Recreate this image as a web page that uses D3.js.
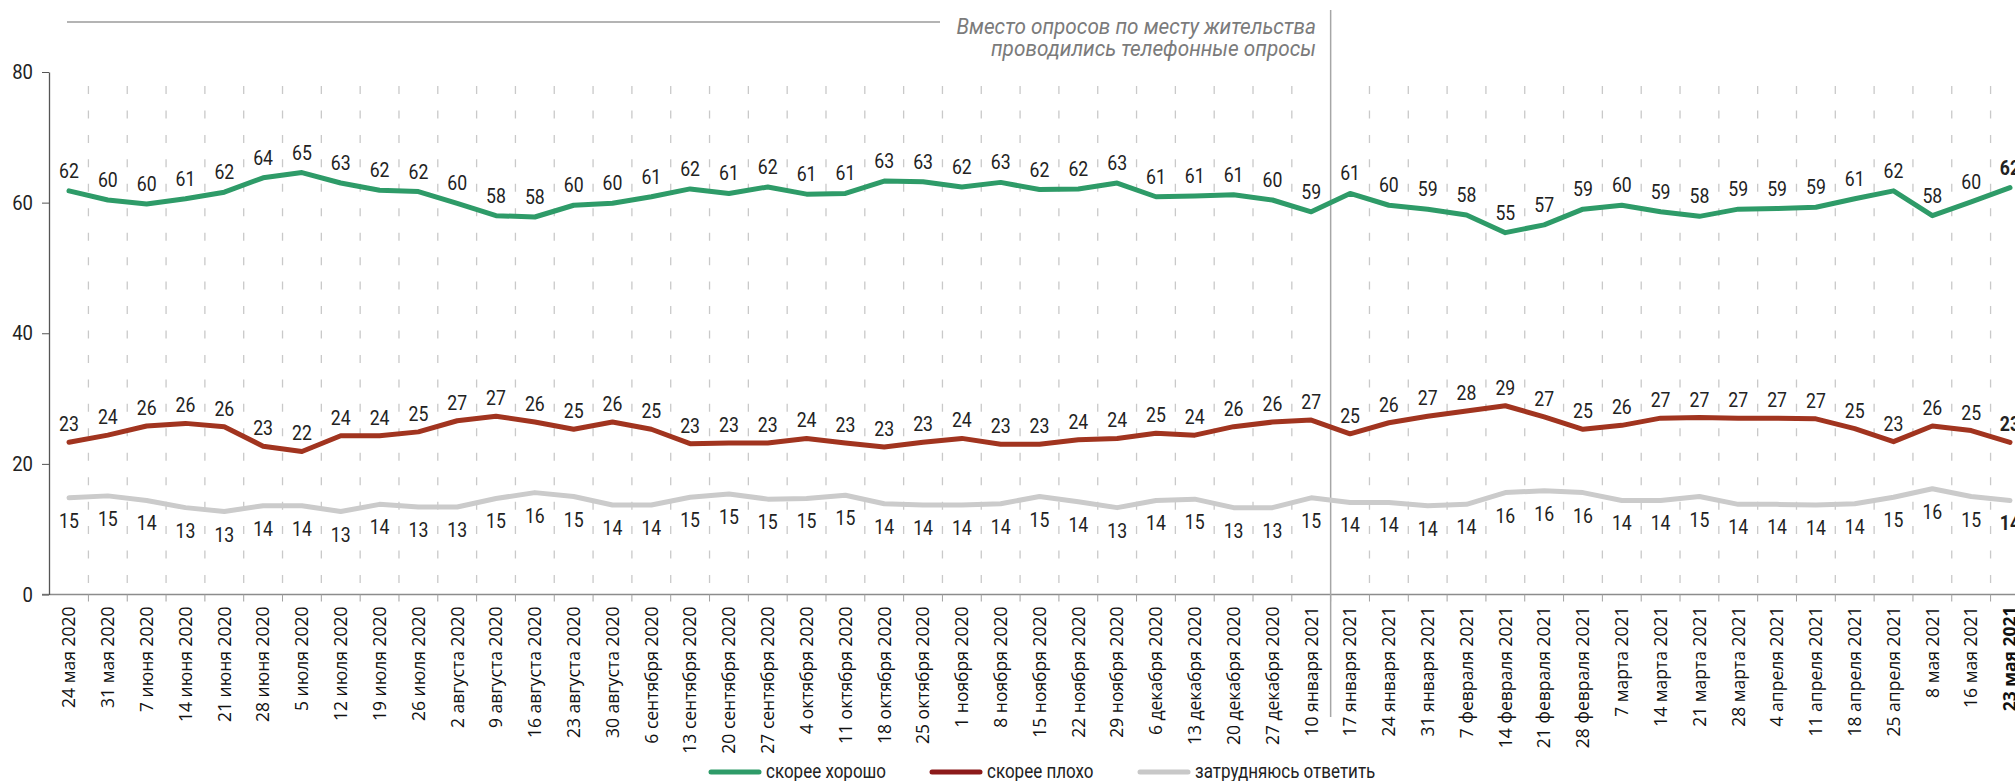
<!DOCTYPE html>
<html>
<head>
<meta charset="utf-8">
<script src="https://cdn.jsdelivr.net/npm/d3@7"></script>
<style>
body { margin: 0; background: #fff; }
svg { display: block; }
</style>
</head>
<body>
<div id="chart"></div>
<script>
// weekly survey dates
var categories = [
  "24 мая 2020", "31 мая 2020", "7 июня 2020", "14 июня 2020", "21 июня 2020", "28 июня 2020",
  "5 июля 2020", "12 июля 2020", "19 июля 2020", "26 июля 2020", "2 августа 2020", "9 августа 2020",
  "16 августа 2020", "23 августа 2020", "30 августа 2020", "6 сентября 2020", "13 сентября 2020",
  "20 сентября 2020", "27 сентября 2020", "4 октября 2020", "11 октября 2020", "18 октября 2020",
  "25 октября 2020", "1 ноября 2020", "8 ноября 2020", "15 ноября 2020", "22 ноября 2020",
  "29 ноября 2020", "6 декабря 2020", "13 декабря 2020", "20 декабря 2020", "27 декабря 2020",
  "10 января 2021", "17 января 2021", "24 января 2021", "31 января 2021", "7 февраля 2021",
  "14 февраля 2021", "21 февраля 2021", "28 февраля 2021", "7 марта 2021", "14 марта 2021",
  "21 марта 2021", "28 марта 2021", "4 апреля 2021", "11 апреля 2021", "18 апреля 2021",
  "25 апреля 2021", "8 мая 2021", "16 мая 2021", "23 мая 2021"
];

var good = [61.8, 60.4, 59.8, 60.6, 61.6, 63.8, 64.6, 63.0, 61.9, 61.7,
            59.9, 58.0, 57.8, 59.6, 59.9, 60.9, 62.1, 61.4, 62.4, 61.3,
            61.4, 63.3, 63.2, 62.4, 63.1, 62.0, 62.1, 63.0, 60.9, 61.0,
            61.2, 60.4, 58.6, 61.4, 59.6, 59.0, 58.1, 55.4, 56.6, 59.0,
            59.6, 58.6, 57.9, 59.0, 59.1, 59.3, 60.6, 61.8, 58.0, 60.1, 62.3];

var bad = [23.3, 24.4, 25.8, 26.2, 25.7, 22.7, 21.9, 24.3, 24.3, 24.9,
           26.6, 27.3, 26.4, 25.3, 26.4, 25.3, 23.1, 23.2, 23.2, 23.9,
           23.2, 22.6, 23.3, 23.9, 23.0, 23.0, 23.7, 23.9, 24.7, 24.4,
           25.7, 26.4, 26.7, 24.6, 26.3, 27.3, 28.1, 28.9, 27.2, 25.3,
           25.9, 27.0, 27.1, 27.0, 27.0, 26.9, 25.4, 23.4, 25.8, 25.1, 23.3];

var hard = [14.8, 15.1, 14.4, 13.3, 12.7, 13.6, 13.6, 12.7, 13.8, 13.4,
            13.4, 14.7, 15.6, 15.0, 13.7, 13.7, 14.9, 15.4, 14.6, 14.7,
            15.2, 13.9, 13.7, 13.7, 13.9, 15.0, 14.2, 13.3, 14.4, 14.6,
            13.3, 13.3, 14.8, 14.1, 14.1, 13.6, 13.8, 15.6, 15.9, 15.6,
            14.4, 14.4, 15.0, 13.8, 13.8, 13.7, 13.9, 14.9, 16.2, 15.0, 14.4];

var seriesNames = ["скорее хорошо", "скорее плохо", "затрудняюсь ответить"];
var yTicks = [0, 20, 40, 60, 80];
var phoneStart = "17 января 2021";
var noteLines = ["Вместо опросов по месту жительства", "проводились телефонные опросы"];

function init() {
  var w = 2015, h = 781;
  var numFont = "Roboto, 'Open Sans', sans-serif";

  var svg = d3.select("#chart").append("svg")
    .attr("width", w)
    .attr("height", h);

  var x = d3.scaleBand().domain(categories).range([49.6, 2029.4]);
  var y = d3.scaleLinear().domain([0, 80]).range([594.5, 72]);
  var cx = function(d, i) { return x(categories[i]) + x.bandwidth() / 2; };

  // squeeze text a little, the original uses a condensed face
  function narrow(sel, k) {
    sel.each(function() {
      var len = this.getComputedTextLength();
      this.setAttribute("textLength", len * k);
      this.setAttribute("lengthAdjust", "spacingAndGlyphs");
    });
  }

  // dashed vertical grid at week boundaries
  var bounds = categories.slice(1).filter(function(c) { return c !== phoneStart; });
  svg.append("g").selectAll("line")
    .data(bounds)
    .enter().append("line")
    .attr("x1", function(d) { return x(d); })
    .attr("x2", function(d) { return x(d); })
    .attr("y1", 86)
    .attr("y2", y(0))
    .attr("stroke", "#c9c9c9")
    .attr("stroke-width", 1.3)
    .attr("stroke-dasharray", "8,16.45");

  // x axis
  var xAxis = svg.append("g")
    .attr("transform", "translate(0," + y(0) + ")")
    .call(d3.axisBottom(x).tickSize(0).tickPadding(0));
  xAxis.select(".domain").attr("stroke", "#8c8c8c").attr("stroke-width", 1.5)
    .attr("d", "M42,0H" + w);
  xAxis.selectAll(".tick text")
    .attr("transform", "rotate(-90)")
    .attr("text-anchor", "end")
    .attr("x", -12)
    .attr("y", 0)
    .attr("dy", "0.36em")
    .style("font-family", "'Open Sans', 'Noto Sans', sans-serif")
    .style("font-size", "17.5px")
    .style("font-weight", function(d) { return d === categories[categories.length - 1] ? "bold" : "normal"; })
    .attr("fill", "#111");

  svg.append("g").selectAll("line")
    .data(categories.slice(1))
    .enter().append("line")
    .attr("x1", function(d) { return x(d); })
    .attr("x2", function(d) { return x(d); })
    .attr("y1", y(0))
    .attr("y2", y(0) + 7)
    .attr("stroke", "#a0a0a0")
    .attr("stroke-width", 1);

  // y axis
  var yAxis = svg.append("g")
    .attr("transform", "translate(49,0)")
    .call(d3.axisLeft(y).tickValues(yTicks).tickSize(7).tickPadding(9).tickSizeOuter(0));
  yAxis.select(".domain").attr("stroke", "#555").attr("stroke-width", 1.3);
  yAxis.selectAll(".tick line").attr("stroke", "#555");
  yAxis.selectAll(".tick text")
    .style("font-family", numFont)
    .style("font-size", "21px")
    .attr("fill", "#222")
    .call(narrow, 0.88);

  // separator between face-to-face and phone surveys
  var sepX = x(phoneStart);
  svg.append("line")
    .attr("x1", sepX).attr("x2", sepX)
    .attr("y1", 10).attr("y2", 717)
    .attr("stroke", "#a6a6a6")
    .attr("stroke-width", 1.5);

  svg.append("line")
    .attr("x1", 67).attr("x2", 940)
    .attr("y1", 22).attr("y2", 22)
    .attr("stroke", "#b4b4b4")
    .attr("stroke-width", 2);

  svg.append("g").selectAll("text")
    .data(noteLines)
    .enter().append("text")
    .attr("x", 1316)
    .attr("y", function(d, i) { return 34 + i * 22; })
    .attr("text-anchor", "end")
    .style("font-family", numFont)
    .style("font-style", "italic")
    .style("font-size", "21.5px")
    .attr("fill", "#7b7b7b")
    .text(function(d) { return d; })
    .call(narrow, 0.965);

  // lines
  var series = [
    { name: seriesNames[0], values: good, color: "#2e9b68", legend: "#2e9b68", dy: -13 },
    { name: seriesNames[1], values: bad, color: "#a1341f", legend: "#8c1a1a", dy: -11 },
    { name: seriesNames[2], values: hard, color: "#cbcbcb", legend: "#c8c8c8", dy: 30 }
  ];

  var line = d3.line()
    .x(cx)
    .y(function(d) { return y(d); });

  var last = categories.length - 1;

  series.slice().reverse().forEach(function(s) {
    svg.append("path")
      .datum(s.values)
      .attr("fill", "none")
      .attr("stroke", s.color)
      .attr("stroke-width", 5)
      .attr("stroke-linejoin", "round")
      .attr("stroke-linecap", "round")
      .attr("d", line);
  });

  series.forEach(function(s) {
    svg.append("g").selectAll("text")
      .data(s.values)
      .enter().append("text")
      .attr("x", cx)
      .attr("y", function(d) { return y(d) + s.dy; })
      .attr("text-anchor", "middle")
      .style("font-family", numFont)
      .style("font-size", "20.5px")
      .style("font-weight", function(d, i) { return i === last ? "bold" : "normal"; })
      .attr("fill", "#222")
      .text(function(d) { return Math.round(d); })
      .call(narrow, 0.86);
  });

  // legend
  var legendX = [709, 930, 1138];
  var lg = svg.append("g").selectAll("g")
    .data(series)
    .enter().append("g")
    .attr("transform", function(d, i) { return "translate(" + legendX[i] + ",772)"; });
  lg.append("line")
    .attr("x1", 2).attr("x2", 50)
    .attr("stroke", function(d) { return d.legend; })
    .attr("stroke-width", 5)
    .attr("stroke-linecap", "round");
  lg.append("text")
    .attr("x", 57)
    .attr("dy", "0.32em")
    .style("font-family", numFont)
    .style("font-size", "20px")
    .attr("fill", "#222")
    .text(function(d) { return d.name; })
    .call(narrow, 0.85);
}

window.onload = init;
</script>
</body>
</html>
